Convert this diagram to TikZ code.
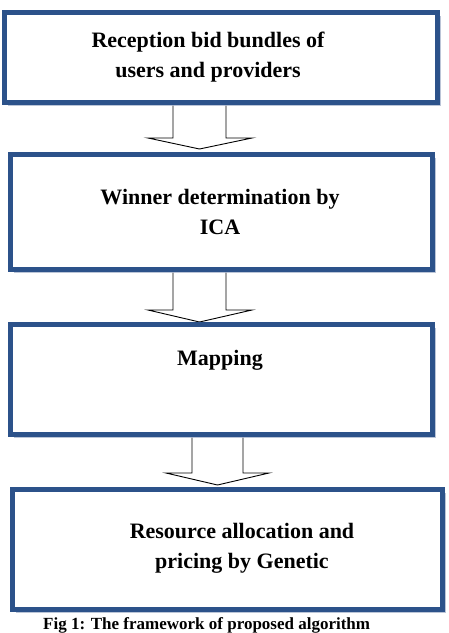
\documentclass[tikz,border=0pt]{standalone}
\usepackage{fontspec}
\setmainfont{Liberation Serif}
\usetikzlibrary{shadows}
\definecolor{boxblue}{RGB}{44,82,138}
\definecolor{shadowblue}{RGB}{170,182,205}
\begin{document}
\begin{tikzpicture}[x=1pt,y=-1pt,
  stagebox/.style={draw=boxblue,line width=5pt,fill=white,rectangle,inner sep=0pt,
    drop shadow={shadow xshift=3pt,shadow yshift=-3pt,fill=shadowblue,opacity=0.8}},
  stagetext/.style={font=\bfseries\fontsize{22}{30}\selectfont,align=center,inner sep=0pt},
  blockarrow/.style={draw=black,fill=white,line width=0.9pt,line join=miter}]
\useasboundingbox (0,0) rectangle (449,633);
\clip (0,0) rectangle (449,633);
% block arrows
\draw[blockarrow] (173,104) -- (226,104) -- (226,138) -- (252,138) -- (199.5,149) -- (148,138) -- (173,138) -- cycle;
\draw[blockarrow] (173,270) -- (226,270) -- (226,310) -- (252,310) -- (199.5,322) -- (148,310) -- (173,310) -- cycle;
\draw[blockarrow] (192,435) -- (243,435) -- (243,473) -- (269,473) -- (217.5,485) -- (166,473) -- (192,473) -- cycle;
% boxes
\node[stagebox,minimum width=433pt,minimum height=90pt] (b1) at (221,57.5) {};
\node[stagebox,minimum width=422pt,minimum height=115pt] (b2) at (221.5,212) {};
\node[stagebox,minimum width=422pt,minimum height=110pt] (b3) at (221.5,379.5) {};
\node[stagebox,minimum width=430pt,minimum height=120pt] (b4) at (227.5,549.5) {};
% texts
\node[stagetext] (t1) at (208,57) {Reception bid bundles of\\users and providers};
\node[stagetext] (t2) at (220,212) {Winner determination by\\ICA};
\node[stagetext] (t3) at (220,360) {Mapping};
\node[stagetext] (t4) at (242,548) {Resource allocation and\\pricing by Genetic};
\node[font=\bfseries\fontsize{17}{20}\selectfont,anchor=base west,inner sep=0pt] (cap) at (43,629) {Fig 1: The framework of proposed algorithm};
\end{tikzpicture}
\end{document}
